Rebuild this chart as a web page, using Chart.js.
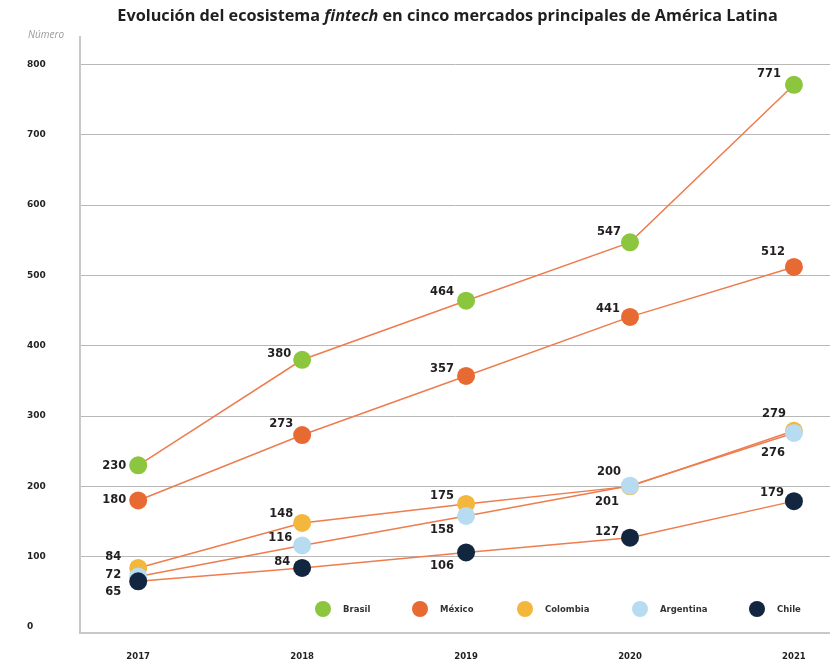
<!DOCTYPE html>
<html>
<head>
<meta charset="utf-8">
<script src="https://cdn.jsdelivr.net/npm/chart.js@4.4.1/dist/chart.umd.min.js"></script>
<style>body{margin:0;background:#fff}</style>
</head>
<body>
<canvas id="chart" width="830" height="664"></canvas>
<script>
// data
const years = [2017, 2018, 2019, 2020, 2021];
const countries = ['Brasil', 'México', 'Colombia', 'Argentina', 'Chile'];
const brasil = [230, 380, 464, 547, 771];
const mexico = [180, 273, 357, 441, 512];
const colombia = [84, 148, 175, 200, 279];
const argentina = [72, 116, 158, 201, 276];
const chile = [65, 84, 106, 127, 179];
const yTicks = [0, 100, 200, 300, 400, 500, 600, 700, 800];

// styling
const colors = ['#8cc63f', '#e86a33', '#f2b73c', '#b7dcf1', '#13263f'];
const lineColor = '#ee7c4e';
const boldFont = '"DejaVu Sans"';
// where each value label sits relative to its point [dx right edge, dy]
const labelOffsets = [
    [[-12, 1], [-11, -6], [-12, -9], [-9, -10], [-13, -11]],
    [[-12, 0], [-9, -11], [-12, -7], [-10, -8], [-9, -15]],
    [[-17, -11], [-9, -9], [-12, -8], [-9, -14], [-8, -17]],
    [[-17, -1], [-10, -7], [-12, 14], [-11, 16], [-9, 20]],
    [[-17, 11], [-12, -6], [-12, 14], [-11, -6], [-10, -8]]
];
const legendX = [323, 420, 525, 640, 757];

const series = [brasil, mexico, colombia, argentina, chile];

const extras = {
    id: 'extras',
    afterDatasetsDraw(chart) {
        const ctx = chart.ctx;
        ctx.save();
        ctx.font = 'bold 11.5px ' + boldFont;
        ctx.fillStyle = '#231f20';
        ctx.textAlign = 'right';
        ctx.textBaseline = 'middle';
        chart.data.datasets.forEach((ds, i) => {
            chart.getDatasetMeta(i).data.forEach((pt, j) => {
                const off = labelOffsets[i][j];
                ctx.fillText(String(ds.data[j].y), pt.x + off[0], pt.y + off[1]);
            });
        });

        // legend inside the plot
        const ly = chart.chartArea.bottom - 24;
        ctx.font = 'bold 8.5px ' + boldFont;
        ctx.textAlign = 'left';
        countries.forEach((name, i) => {
            ctx.beginPath();
            ctx.fillStyle = colors[i];
            ctx.arc(legendX[i], ly, 8, 0, Math.PI * 2);
            ctx.fill();
            ctx.fillStyle = '#333';
            ctx.fillText(name, legendX[i] + 20, ly + 1);
        });

        // title with italic word
        const parts = [
            ['Evolución del ecosistema ', 'normal'],
            ['fintech', 'italic'],
            [' en cinco mercados principales de América Latina', 'normal']
        ];
        const measure = size => parts.reduce((w, p) => {
            ctx.font = p[1] + ' 700 ' + size + 'px "Open Sans"';
            return w + ctx.measureText(p[0]).width;
        }, 0);
        const size = 16 * 661 / measure(16);
        let x = 447.5 - measure(size) / 2;
        ctx.fillStyle = '#1f1f1f';
        parts.forEach(p => {
            ctx.font = p[1] + ' 700 ' + size + 'px "Open Sans"';
            ctx.fillText(p[0], x, 16);
            x += ctx.measureText(p[0]).width;
        });

        // axis unit
        ctx.font = 'italic 10px "Open Sans"';
        ctx.fillStyle = '#9a9a9a';
        ctx.fillText('Número', 28, 35);
        ctx.restore();
    }
};

new Chart(document.getElementById('chart'), {
    type: 'line',
    data: {
        datasets: series.map((vals, i) => ({
            label: countries[i],
            data: vals.map((v, j) => ({x: years[j], y: v})),
            borderColor: lineColor,
            borderWidth: 1.5,
            pointRadius: 9,
            pointBorderWidth: 0,
            pointBackgroundColor: colors[i],
            order: 4 - i
        }))
    },
    options: {
        responsive: false,
        animation: false,
        events: [],
        layout: {autoPadding: false, padding: {top: 37, left: 27, right: 0, bottom: 1}},
        plugins: {legend: {display: false}, title: {display: false}, tooltip: {enabled: false}},
        scales: {
            x: {
                type: 'linear',
                min: 2016.645,
                max: 2021.22,
                afterBuildTicks: s => { s.ticks = years.map(v => ({value: v})); },
                afterFit: s => { s.height = 30; s.paddingLeft = 0; s.paddingRight = 0; },
                grid: {display: false, drawTicks: false},
                border: {display: true, color: '#c8c8c8', width: 2},
                ticks: {
                    callback: v => String(v),
                    padding: 19,
                    maxRotation: 0,
                    color: '#231f20',
                    font: {family: 'DejaVu Sans', size: 8.5, weight: 'bold'}
                }
            },
            y: {
                min: -8.5,
                max: 839,
                afterBuildTicks: s => { s.ticks = yTicks.map(v => ({value: v})); },
                afterFit: s => { s.width = 53; s.paddingTop = 0; s.paddingBottom = 0; },
                grid: {
                    color: c => (c.tick && c.tick.value === 0) ? 'rgba(0,0,0,0)' : '#b8b8b8',
                    lineWidth: 1,
                    drawTicks: false
                },
                border: {display: true, color: '#c8c8c8', width: 2},
                ticks: {
                    crossAlign: 'far',
                    padding: 0,
                    color: '#231f20',
                    font: {family: 'DejaVu Sans', size: 9, weight: 'bold'}
                }
            }
        }
    },
    plugins: [extras]
});
</script>
</body>
</html>
